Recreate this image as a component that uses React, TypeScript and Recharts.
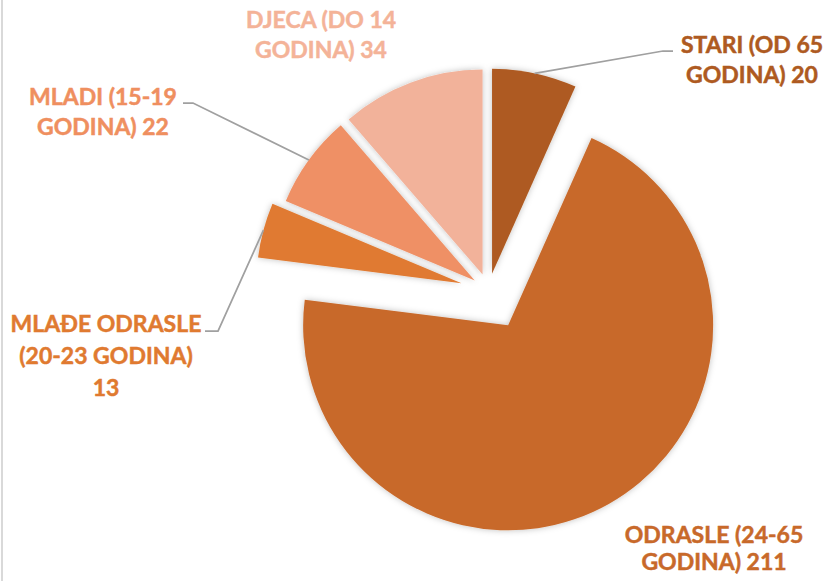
import React from "react"
import { PieChart, Pie, Cell } from "recharts"

// Age groups, clockwise from 12 o'clock
const CATEGORIES = [
  "STARI (OD 65 GODINA)",
  "ODRASLE (24-65 GODINA)",
  "MLAĐE ODRASLE (20-23 GODINA)",
  "MLADI (15-19 GODINA)",
  "DJECA (DO 14 GODINA)",
]
const VALUES = [20, 211, 13, 22, 34]

// how the label text is broken over lines (value is appended to the last line)
const LABEL_LINES = [
  ["STARI (OD 65", "GODINA)"],
  ["ODRASLE (24-65", "GODINA)"],
  ["MLAĐE ODRASLE", "(20-23 GODINA)", ""],
  ["MLADI (15-19", "GODINA)"],
  ["DJECA (DO 14", "GODINA)"],
]

const COLORS = ["#AE5A21", "#C8692A", "#E07A30", "#EF9065", "#F2B29A"]
const TEXT_COLORS = ["#AE5A21", "#C8692A", "#E07A30", "#EF8F5F", "#F4B398"]

// explosion distance for every slice (px)
const EXPLODE = [17, 40, 28, 17, 17]

const W = 827
const H = 581
const CX = 488.5
const CY = 290.5
const R = 205
const FONT = "Lato, 'Open Sans', sans-serif"

// label placement: text centre x, baselines, optional leader elbow points
const LABEL_LAYOUT = [
  { x: 752, y: [53, 83], leader: [[663, 51], [673, 51]] },
  { x: 714, y: [543, 570], leader: null },
  { x: 106, y: [332, 364, 396], leader: [[218, 331], [205, 331]] },
  { x: 103, y: [105, 135], leader: [[193, 103], [183, 103]] },
  { x: 321, y: [28, 58], leader: null },
]

const data = CATEGORIES.map((name, i) => ({ name, value: VALUES[i] }))
const total = VALUES.reduce((a, b) => a + b, 0)

// mid angle of each slice, degrees clockwise from top
const midAngles = VALUES.map((v, i) => {
  const before = VALUES.slice(0, i).reduce((a, b) => a + b, 0)
  return ((before + v / 2) / total) * 360
})

const offsets = midAngles.map((a, i) => {
  const rad = (a * Math.PI) / 180
  return { dx: EXPLODE[i] * Math.sin(rad), dy: -EXPLODE[i] * Math.cos(rad) }
})

function renderLabel(props: any) {
  const i = props.index
  const layout = LABEL_LAYOUT[i]
  const lines = LABEL_LINES[i].slice()
  lines[lines.length - 1] = (lines[lines.length - 1] + " " + VALUES[i]).trim()
  const rad = (midAngles[i] * Math.PI) / 180
  const sx = CX + offsets[i].dx + R * Math.sin(rad)
  const sy = CY + offsets[i].dy - R * Math.cos(rad)
  return (
    <g key={`label-${i}`}>
      {layout.leader && (
        <polyline
          points={[[sx, sy], ...layout.leader].map((p) => p.join(",")).join(" ")}
          fill="none"
          stroke="#A0A0A0"
          strokeWidth={1.75}
        />
      )}
      <text
        textAnchor="middle"
        fill={TEXT_COLORS[i]}
        stroke={TEXT_COLORS[i]}
        strokeWidth={0.5}
        fontFamily={FONT}
        fontWeight={700}
        fontSize={23}
      >
        {lines.map((line, k) => (
          <tspan key={k} x={layout.x} y={layout.y[k]}>
            {line}
          </tspan>
        ))}
      </text>
    </g>
  )
}

export default function App() {
  return (
    <div style={{ position: "absolute", left: 0, top: 0, width: W, height: H, background: "#fff" }}>
      <svg width={0} height={0} style={{ position: "absolute" }}>
        <defs>
          <filter id="sliceShadow" x="-20%" y="-20%" width="140%" height="140%">
            <feDropShadow dx={0} dy={0} stdDeviation={3} floodColor="#000" floodOpacity={0.25} />
          </filter>
        </defs>
      </svg>
      <div style={{ position: "absolute", left: 1, top: 0, width: 2, height: H, background: "#D9D9D9" }} />
      <PieChart width={W} height={H} margin={{ top: 0, right: 0, bottom: 0, left: 0 }}>
        {data.map((_, i) => (
          <Pie
            key={`pie-${i}`}
            data={data}
            dataKey="value"
            nameKey="name"
            cx={CX + offsets[i].dx}
            cy={CY + offsets[i].dy}
            outerRadius={R}
            startAngle={90}
            endAngle={-270}
            stroke="none"
            isAnimationActive={false}
            labelLine={false}
            label={i === data.length - 1 ? renderLabel : false}
          >
            {data.map((entry, j) => (
              <Cell
                key={`cell-${i}-${j}`}
                fill={i === j ? COLORS[j] : "transparent"}
                filter={i === j ? "url(#sliceShadow)" : undefined}
              />
            ))}
          </Pie>
        ))}
      </PieChart>
    </div>
  )
}
